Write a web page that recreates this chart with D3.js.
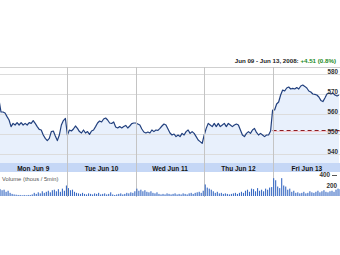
<!DOCTYPE html>
<html><head><meta charset="utf-8">
<script src="https://cdn.jsdelivr.net/npm/d3@7/dist/d3.min.js"></script>
<style>html,body{margin:0;padding:0;background:#fff;}svg{display:block;}</style>
</head><body>
<script>
// ---- data ----
const dayLabels = ["Mon Jun 9","Tue Jun 10","Wed Jun 11","Thu Jun 12","Fri Jun 13"];
const priceTicks = [540, 550, 560, 570, 580];
const volTicks = [200, 400];
const prevClose = 552;
const titleRange = "Jun 09 - Jun 13, 2008:";
const titleChange = "+4.51 (0.8%)";
const volLabel = "Volume (thous / 5min)";

const monPrice = [567,561,561,560.5,558.7,557,553.7,555.3,554.5,555.7,554.5,555.7,554.5,555.3,554.5,555.7,555.3,556.7,555.3,553.7,552.3,552,549.5,547.8,546.7,547.8,551.2,551.5,549,546.7,549.5,554.5,556.7,557.8];
const tuePrice = [549.5,552,551.5,552.5,554,552.8,551.2,550.5,552,550.5,551.2,549.8,551.5,552,553.7,555.5,556.5,556,557.5,558,557,555.5,555.3,556,553.5,553,553.7,553,553.7,554.3,553,554,555.2,555.5];
const wedPrice = [555.5,555,554.5,552.5,551,550.5,551,550.5,552,551.2,552,551.8,552.8,554,555,554.5,552.5,550.5,549.5,550,548.7,549.5,548.7,550.3,549.5,551.2,552,550.3,551.2,550.3,548.7,547,546.2,545.3];
const thuPrice = [549.5,552.8,555.3,554.5,553.7,555.3,553.7,555.3,553.7,554.5,555.3,553.7,555.3,554.5,553.7,554.5,555,554.5,552,549.5,548.7,550.3,551.2,550.3,552,552.8,550.8,549.5,550.3,549.5,548.7,549.5,549.5,551.5];
const friPrice = [562,562,565,566,569.5,572,571.5,573,573.5,572.5,572.8,572.5,573.2,572.5,574,574.5,573.8,573,571.5,571,570,569.8,569.5,568.5,566.8,566.2,568,570,570.5,570,570.5,569.5,569,569.5];

const monVol = [130,110,120,80,100,60,40,30,25,20,20,15,20,15,20,20,30,60,40,70,50,90,60,80,100,70,110,120,90,130,80,140,100,200];
const tueVol = [150,110,120,80,60,50,40,60,40,30,50,40,30,50,40,60,30,40,50,30,40,70,30,20,30,40,50,30,40,60,50,70,60,90];
const wedVol = [140,100,120,90,110,80,70,90,60,50,70,40,30,40,30,50,40,30,40,50,30,40,30,50,40,30,50,60,40,60,70,80,60,100];
const thuVol = [220,160,140,120,90,60,80,50,60,40,50,40,30,40,50,60,40,60,80,60,100,120,80,140,130,90,150,100,120,90,140,120,160,170];
const friVol = [340,300,180,150,340,200,180,120,140,80,100,60,70,50,60,80,50,60,90,70,60,80,100,70,90,110,80,70,90,100,80,120,140,130];

const price = [].concat(monPrice, tuePrice, wedPrice, thuPrice, friPrice);
const volume = [].concat(monVol, tueVol, wedVol, thuVol, friVol);
const perDay = monPrice.length;
const nDays = dayLabels.length;
const total = perDay * nDays;

// ---- layout ----
const W = 340, H = 255;
const svg = d3.select("body").append("svg").attr("width", W).attr("height", H);
const font = "'Liberation Sans', Arial, sans-serif";

const x = d3.scaleLinear().domain([0, total]).range([-1, 341]);
const y = d3.scaleLinear().domain([540, 580]).range([154, 74]);
const yv = d3.scaleLinear().domain([0, 400]).range([196, 175]);
const priceBottom = 163, barTop = 163, barBottom = 172, plotTop = 67;

// area fill
svg.append("path").datum(price)
  .attr("d", d3.area().x((d,i)=>x(i)).y0(priceBottom).y1(d=>y(d)))
  .attr("fill", "#e8f0fc");

// horizontal gridlines
svg.append("g").selectAll("line").data(priceTicks).join("line")
  .attr("x1", 0).attr("x2", W).attr("y1", d=>Math.round(y(d))+0.5).attr("y2", d=>Math.round(y(d))+0.5)
  .attr("stroke", "#dcdcdc").attr("stroke-width", 1);
svg.append("line").attr("x1",0).attr("x2",W).attr("y1",plotTop+0.5).attr("y2",plotTop+0.5)
  .attr("stroke","#cfcfcf");

// day boundaries
const bounds = d3.range(1, nDays).map(k => k * perDay);

// price line
svg.append("path").datum(price)
  .attr("d", d3.line().x((d,i)=>x(i)).y(d=>y(d)))
  .attr("fill","none").attr("stroke","#22407e").attr("stroke-width",1.2).attr("stroke-linejoin","round");

// previous close dashed line
const pcY = Math.round(y(prevClose)) + 0.5;
svg.append("line").attr("x1", x(4*perDay)).attr("x2", W).attr("y1", pcY+1).attr("y2", pcY+1)
  .attr("stroke","#f3c8cc").attr("stroke-width",1);
svg.append("line").attr("x1", x(4*perDay)).attr("x2", W).attr("y1", pcY).attr("y2", pcY)
  .attr("stroke","#8e1b22").attr("stroke-width",1.1).attr("stroke-dasharray","4,3");

// price labels
svg.append("g").selectAll("text").data(priceTicks).join("text")
  .attr("x", 338).attr("y", d=>y(d)).attr("text-anchor","end")
  .attr("font-family", font).attr("font-size", 6.3).attr("font-weight","bold").attr("fill","#333")
  .text(d=>d);

// date bar
svg.append("rect").attr("x",0).attr("y",barTop).attr("width",W).attr("height",barBottom-barTop)
  .attr("fill","#c5d7f6");
svg.append("g").selectAll("text").data(dayLabels).join("text")
  .attr("x",(d,i)=>x(i*perDay + perDay/2)).attr("y", barBottom-1.5).attr("text-anchor","middle")
  .attr("font-family", font).attr("font-size", 6.5).attr("font-weight","bold").attr("fill","#111")
  .text(d=>d);

// vertical gridlines
svg.append("g").selectAll("line").data(bounds).join("line")
  .attr("x1", d=>Math.round(x(d))+0.5).attr("x2", d=>Math.round(x(d))+0.5)
  .attr("y1", plotTop).attr("y2", 197)
  .attr("stroke", "#c4c4c4").attr("stroke-width", 1);

// volume bars
svg.append("g").selectAll("rect").data(volume).join("rect")
  .attr("x",(d,i)=>x(i)+0.5).attr("width",1.1)
  .attr("y", d=>yv(d)).attr("height", d=>yv(0)-yv(d))
  .attr("fill","#3a6bc4");

// volume labels
svg.append("text").attr("x",2).attr("y",181).attr("font-family",font).attr("font-size",5.8)
  .attr("fill","#555").text(volLabel);
svg.append("g").selectAll("text").data(volTicks).join("text")
  .attr("x", d=> d===400 ? 330 : 337).attr("y", d=>yv(d)+2).attr("text-anchor","end")
  .attr("font-family",font).attr("font-size",6.3).attr("font-weight","bold").attr("fill","#333")
  .text(d=>d);
svg.append("line").attr("x1",332).attr("x2",337).attr("y1",yv(400)+0.5).attr("y2",yv(400)+0.5)
  .attr("stroke","#555");

// title
const t = svg.append("text").attr("x",336).attr("y",62.5).attr("text-anchor","end")
  .attr("font-family",font).attr("font-size",6.2).attr("font-weight","bold");
t.append("tspan").attr("fill","#222").text(titleRange + " ");
t.append("tspan").attr("fill","#1a8a1a").text(titleChange);
</script>
</body></html>
